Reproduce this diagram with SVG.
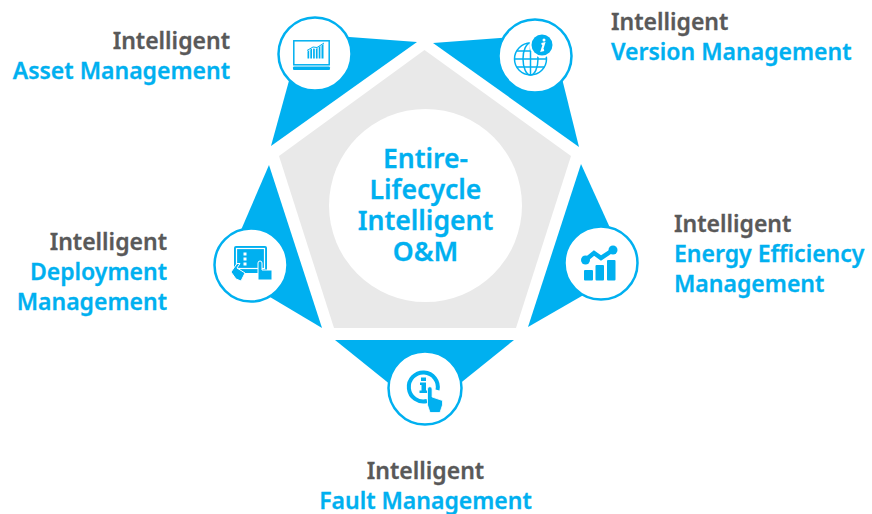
<svg xmlns="http://www.w3.org/2000/svg" width="872" height="514" viewBox="0 0 872 514">
<style>
.wedge{fill:#00B0F0}
.disc{fill:#fff;stroke:#00B0F0;stroke-width:2.5}
.b{fill:#00B0F0}
.l{fill:none;stroke:#00B0F0;stroke-width:1.5}
.w{fill:none;stroke:#fff;stroke-width:1.2}
text{font-family:"Noto Sans","Open Sans","Liberation Sans",sans-serif;font-weight:600;font-size:23px;stroke-width:.3}
.g{fill:#595959;stroke:#595959}
.c{fill:#00B0F0;stroke:#00B0F0}
.e{text-anchor:end}
.m{text-anchor:middle}
.t{font-size:26.600px;fill:#00B0F0;stroke:#00B0F0;text-anchor:middle}
</style>
<rect width="872" height="514" fill="#fff"/>
<g id="center">
<polygon points="424.5,50 571,156 516,328 334,328 279,156" fill="#E9E9E9"/>
<circle cx="425.500" cy="205.500" r="96.500" fill="#fff"/>
<text class="t" y="168"><tspan x="425.500">Entire-</tspan><tspan x="425.500" dy="31">Lifecycle</tspan><tspan x="425.500" dy="31">Intelligent</tspan><tspan x="425.500" dy="31">O&amp;M</tspan></text>
</g>
<g id="asset">
<polygon class="wedge" points="417,42 302,33.500 271,146"/>
<circle class="disc" cx="315" cy="54" r="36.500"/>
<rect class="l" x="293.800" y="40.800" width="35.400" height="24"/>
<rect class="b" x="293" y="66.500" width="37" height="3.500" rx="1"/>
<path class="b" d="M307.500 58.500V51.500L309.200 50V58.500ZM310.300 58.500V49.500L312 48.500V58.500ZM313.100 58.500V48.500L314.800 48.800V58.500ZM315.900 58.500V48.800L317.600 48V58.500ZM318.700 58.500V47L320.400 46V58.500ZM321.500 58.500V45.500L323.500 44V58.500Z"/>
<path d="M307 50.500L313 47L317 47.500L324 43" fill="none" stroke="#00B0F0" stroke-width="1"/>
<text class="g e" x="230" y="48.500">Intelligent</text>
<text class="c e" x="230" y="78.500">Asset Management</text>
</g>
<g id="version">
<polygon class="wedge" points="433,43 551,34 579,147"/>
<circle class="disc" cx="535" cy="56" r="36.500"/>
<g class="l">
<circle cx="530.500" cy="59" r="16"/>
<ellipse cx="530.500" cy="59" rx="7.500" ry="16"/>
<path d="M530.500 43V75M514.500 59H546.500M517 51H544M517 67H544"/>
</g>
<circle cx="542" cy="45" r="12.500" fill="#fff"/>
<circle class="b" cx="542" cy="45" r="10.500"/>
<path d="M541.500 44L544 43.500L541.800 50.500L544 50" fill="none" stroke="#fff" stroke-width="2.200"/>
<circle cx="544" cy="40" r="1.500" fill="#fff"/>
<text class="g" x="611" y="29.500">Intelligent</text>
<text class="c" x="611" y="59.500">Version Management</text>
</g>
<g id="energy">
<polygon class="wedge" points="581,164 628.700,269 528,327"/>
<circle class="disc" cx="601" cy="263" r="36.500"/>
<path d="M585.500 260L594 253L601 258L613 250" fill="none" stroke="#00B0F0" stroke-width="4.500"/>
<circle class="b" cx="585.500" cy="260" r="4.500"/>
<circle class="b" cx="613" cy="250" r="4.500"/>
<rect class="b" x="584" y="270" width="9" height="10.500" rx="1"/>
<rect class="b" x="595.500" y="265" width="8.500" height="15.500" rx="1"/>
<rect class="b" x="607" y="260" width="8.500" height="20.500" rx="1"/>
<text class="g" x="674" y="231.500">Intelligent</text>
<text class="c" x="674" y="261.500">Energy Efficiency</text>
<text class="c" x="674" y="291.500">Management</text>
</g>
<g id="fault">
<polygon class="wedge" points="335,340 514,340 424.500,412"/>
<circle class="disc" cx="425" cy="388" r="36.500"/>
<path d="M427 401A14.500 14.500 0 1 1 437.500 390" fill="none" stroke="#00B0F0" stroke-width="4"/>
<path class="b" d="M421 377.500h5v3.500h-5zM420 382.500h6v8h1.500v2.500h-8v-2.500h2v-5.500h-1.500z"/>
<path class="b" d="M427.500 389a2.300 2.300 0 0 1 4.600 0V397L442.500 400.500V405L440 412.500H430L427.500 405Z" stroke="#fff" stroke-width="0.800"/>
<text class="g m" x="425.500" y="479">Intelligent</text>
<text class="c m" x="425.500" y="508.500">Fault Management</text>
</g>
<g id="deployment">
<polygon class="wedge" points="269,165 224,269.500 322,328"/>
<circle class="disc" cx="251" cy="265" r="36.500"/>
<rect class="b" x="234" y="246" width="33" height="27" rx="2"/>
<rect class="w" x="236.500" y="248.500" width="28" height="20"/>
<rect x="243.500" y="252.500" width="3" height="3" fill="#fff"/>
<rect x="243.500" y="257.500" width="3" height="3" fill="#fff"/>
<rect x="243.500" y="262.500" width="3" height="3" fill="#fff"/>
<path class="b" d="M231 272L237 263.500H240L237 268L245 273L241 281L236 279Z" stroke="#fff" stroke-width="1"/>
<path class="b" d="M258 263a2 2 0 0 1 4 0V270H272V280H258Z" stroke="#fff" stroke-width="1"/>
<text class="g e" x="167" y="249.500">Intelligent</text>
<text class="c e" x="167" y="279.500">Deployment</text>
<text class="c e" x="167" y="309.500">Management</text>
</g>
</svg>
